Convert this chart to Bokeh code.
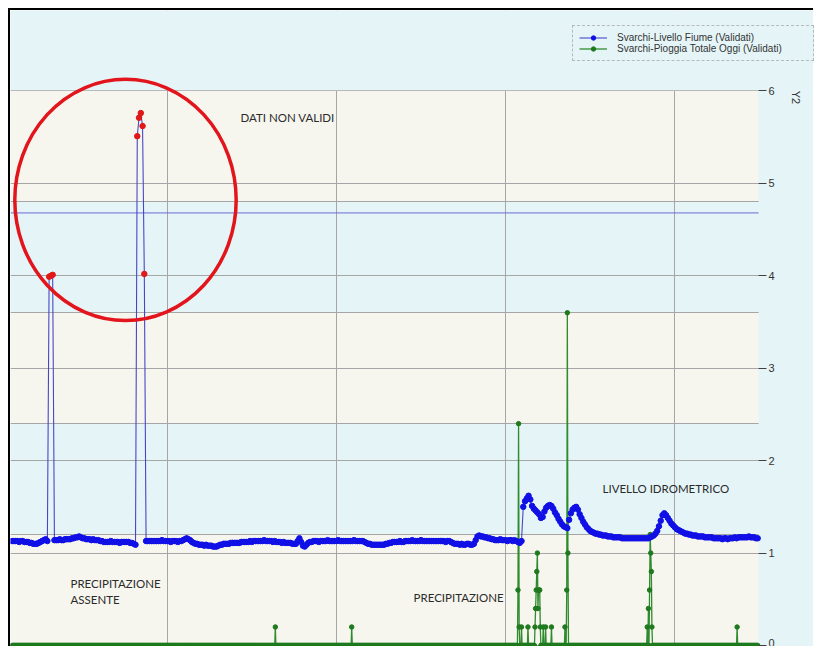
import math
from bokeh.plotting import figure
from bokeh.models import (FixedTicker, Grid, Span, BoxAnnotation, Label,
                          Legend, LegendItem, ColumnDataSource, Range1d)
from bokeh.embed import file_html
from bokeh.resources import INLINE

# ---------------- data ----------------
# River level (m), one value every 15 minutes, starting at hour 2.0
LEVEL_START_H = 2.0
LEVEL_STEP_H = 0.25
LEVEL = [
    1.13, 1.13, 1.13, 1.13, 1.12, 1.13, 1.13, 1.12, 1.12, 1.12, 1.11, 1.11, 1.10, 1.10, 1.10, 1.11,
    1.12, 1.13, 1.14, 1.15, 1.13, 3.99, 4.00, 4.01, 1.14, 1.14, 1.14, 1.15, 1.14, 1.14, 1.15, 1.15,
    1.15, 1.15, 1.16, 1.16, 1.17, 1.17, 1.18, 1.17, 1.16, 1.16, 1.15, 1.15, 1.15, 1.14, 1.15, 1.14,
    1.14, 1.14, 1.13, 1.13, 1.12, 1.12, 1.12, 1.12, 1.13, 1.12, 1.12, 1.12, 1.12, 1.11, 1.12, 1.12,
    1.12, 1.12, 1.12, 1.11, 1.11, 1.10, 1.09, 5.51, 5.71, 5.76, 5.62, 4.02, 1.13, 1.13, 1.13, 1.13,
    1.13, 1.13, 1.13, 1.13, 1.13, 1.14, 1.13, 1.13, 1.13, 1.13, 1.12, 1.13, 1.13, 1.13, 1.12, 1.13,
    1.13, 1.14, 1.15, 1.16, 1.15, 1.14, 1.12, 1.11, 1.10, 1.10, 1.09, 1.09, 1.09, 1.08, 1.09, 1.08,
    1.08, 1.08, 1.07, 1.07, 1.07, 1.08, 1.09, 1.09, 1.10, 1.10, 1.10, 1.10, 1.11, 1.11, 1.11, 1.11,
    1.11, 1.11, 1.12, 1.12, 1.12, 1.12, 1.12, 1.13, 1.12, 1.13, 1.13, 1.13, 1.13, 1.13, 1.13, 1.14,
    1.13, 1.13, 1.13, 1.13, 1.12, 1.13, 1.12, 1.12, 1.12, 1.11, 1.12, 1.11, 1.11, 1.11, 1.11, 1.10,
    1.10, 1.10, 1.13, 1.16, 1.12, 1.08, 1.07, 1.09, 1.11, 1.12, 1.12, 1.13, 1.13, 1.13, 1.12, 1.13,
    1.13, 1.13, 1.13, 1.14, 1.13, 1.13, 1.13, 1.13, 1.13, 1.14, 1.13, 1.13, 1.13, 1.13, 1.13, 1.13,
    1.13, 1.13, 1.14, 1.13, 1.13, 1.13, 1.13, 1.13, 1.12, 1.11, 1.10, 1.10, 1.09, 1.09, 1.09, 1.09,
    1.09, 1.09, 1.09, 1.09, 1.10, 1.10, 1.11, 1.11, 1.12, 1.12, 1.12, 1.12, 1.13, 1.12, 1.12, 1.13,
    1.13, 1.13, 1.13, 1.14, 1.13, 1.13, 1.13, 1.13, 1.14, 1.13, 1.13, 1.13, 1.13, 1.13, 1.13, 1.13,
    1.13, 1.13, 1.13, 1.13, 1.13, 1.13, 1.12, 1.13, 1.13, 1.12, 1.11, 1.10, 1.10, 1.10, 1.09, 1.10,
    1.09, 1.09, 1.10, 1.10, 1.09, 1.09, 1.10, 1.14, 1.18, 1.19, 1.18, 1.18, 1.17, 1.17, 1.16, 1.16,
    1.15, 1.15, 1.14, 1.14, 1.14, 1.15, 1.14, 1.14, 1.14, 1.13, 1.14, 1.14, 1.13, 1.14, 1.13, 1.12,
    1.11, 1.13, 1.50, 1.56, 1.59, 1.62, 1.58, 1.51, 1.48, 1.46, 1.44, 1.42, 1.38, 1.39, 1.45, 1.49,
    1.51, 1.52, 1.51, 1.48, 1.44, 1.41, 1.37, 1.34, 1.31, 1.29, 1.28, 1.27, 1.36, 1.43, 1.47, 1.49,
    1.50, 1.47, 1.42, 1.38, 1.34, 1.31, 1.28, 1.26, 1.24, 1.23, 1.22, 1.21, 1.21, 1.20, 1.20, 1.19,
    1.19, 1.19, 1.18, 1.18, 1.18, 1.17, 1.17, 1.17, 1.17, 1.17, 1.16, 1.16, 1.16, 1.16, 1.16, 1.16,
    1.16, 1.16, 1.16, 1.16, 1.16, 1.16, 1.16, 1.16, 1.16, 1.16, 1.17, 1.18, 1.19, 1.21, 1.24, 1.29,
    1.35, 1.41, 1.43, 1.41, 1.38, 1.35, 1.32, 1.30, 1.28, 1.26, 1.25, 1.24, 1.23, 1.22, 1.21, 1.21,
    1.20, 1.20, 1.19, 1.19, 1.19, 1.18, 1.18, 1.18, 1.18, 1.17, 1.17, 1.17, 1.17, 1.17, 1.16, 1.16,
    1.16, 1.16, 1.16, 1.15, 1.16, 1.16, 1.15, 1.16, 1.16, 1.16, 1.17, 1.16, 1.17, 1.17, 1.17, 1.17,
    1.17, 1.17, 1.18, 1.17, 1.17, 1.17, 1.16, 1.16,
]
# samples flagged as not valid (hours)
INVALID_HOURS = [7.25, 7.5, 7.75, 19.75, 20.0, 20.25, 20.5, 20.75]

# Rain (mm), every 5 minutes; zero except these readings
RAIN_START_H = 2.0
RAIN_END_H = 107.75
RAIN_EVENT_HOURS = [39.33, 50.17,
                    73.75, 73.83, 73.92, 74.25, 75.17,
                    76.17, 76.25, 76.33, 76.42, 76.5, 76.58, 76.67, 76.75, 76.83, 76.92,
                    77.33, 77.67, 78.5,
                    80.42, 80.67, 80.75, 80.83,
                    92.08, 92.25, 92.42, 92.5, 92.58, 92.67, 92.75,
                    104.83]
RAIN_EVENT_MM = [0.2, 0.2,
                 0.6, 2.4, 0.2, 0.2, 0.2,
                 0.2, 0.4, 0.6, 0.8, 1.0, 0.4, 0.6, 0.6, 0.6, 0.2,
                 0.2, 0.2, 0.2,
                 0.2, 0.6, 3.6, 1.0,
                 0.2, 0.4, 0.6, 1.2, 1.0, 0.8, 0.2,
                 0.2]

Y_TICKS = [0, 1, 2, 3, 4, 5, 6]
BAND_EDGES = [1.2, 2.4, 3.6, 4.8]
DAY_GRID_HOURS = [24, 48, 72, 96]
THRESHOLD = 4.68

SERIES_NAMES = ["Svarchi-Livello Fiume (Validati)", "Svarchi-Pioggia Totale Oggi (Validati)"]
Y2_LABEL = "Y2"

# time window of the plotting area (hours) and full canvas extent
X_START = 1.77
X_END = 107.87
X_CANVAS_END = 115.95
Y_CANVAS_BOTTOM = -0.0325
Y_CANVAS_TOP = 6.87

# ---------------- build sources ----------------
lvl_t = [LEVEL_START_H + i * LEVEL_STEP_H for i in range(len(LEVEL))]
inv_t = [t for t in lvl_t if any(abs(t - h) < 1e-6 for h in INVALID_HOURS)]
inv_v = [LEVEL[lvl_t.index(t)] for t in inv_t]
valid_t = [t for t in lvl_t if t not in inv_t]
valid_v = [LEVEL[lvl_t.index(t)] for t in valid_t]

n_rain = int(round((RAIN_END_H - RAIN_START_H) * 12)) + 1
rain_t = [RAIN_START_H + k / 12.0 for k in range(n_rain)]
rain_v = [0.0] * n_rain
for h, mm in zip(RAIN_EVENT_HOURS, RAIN_EVENT_MM):
    rain_v[int(round((h - RAIN_START_H) * 12))] = mm

CREAM = "#F7F6EE"
LIGHTBLUE = "#E5F5F7"
GRID = "#A6A6A6"

p = figure(width=805, height=638, output_backend="svg", toolbar_location=None,
           x_range=Range1d(X_START, X_CANVAS_END), y_range=Range1d(Y_CANVAS_BOTTOM, Y_CANVAS_TOP),
           x_axis_location=None, y_axis_location="right",
           min_border_left=0, min_border_top=0, min_border_bottom=0, min_border_right=0)
p.styles = {"margin-left": "8px", "margin-top": "8px", "vertical-align": "top",
            "border-top": "2px solid black", "border-left": "2px solid black"}
p.outline_line_color = None
p.background_fill_color = LIGHTBLUE
p.border_fill_color = LIGHTBLUE

# horizontal bands (lowest one runs to the bottom edge)
edges = [None] + BAND_EDGES + [Y_TICKS[-1]]
for i in range(len(edges) - 1):
    col = CREAM if i % 2 == 0 else LIGHTBLUE
    p.add_layout(BoxAnnotation(bottom=edges[i], top=edges[i + 1], right=X_END, fill_color=col,
                               fill_alpha=1, line_color=None, level="image"))

# right value axis, drawn at the right edge of the plotting area
ax = p.yaxis[0]
ax.fixed_location = X_END
ax.ticker = FixedTicker(ticks=Y_TICKS)
ax.axis_line_color = None
ax.major_tick_out = 8
ax.major_tick_in = 0
ax.minor_tick_line_color = None
ax.major_tick_line_color = "#404040"
ax.major_label_standoff = 2
ax.major_label_text_font = "Liberation Sans"
ax.major_label_text_font_size = "11px"
ax.major_label_text_color = "#333333"

p.ygrid.ticker = FixedTicker(ticks=Y_TICKS)
p.ygrid.grid_line_color = GRID
p.xgrid.ticker = FixedTicker(ticks=DAY_GRID_HOURS)
p.xgrid.grid_line_color = GRID
p.add_layout(Grid(dimension=1, ticker=FixedTicker(ticks=BAND_EDGES), grid_line_color=GRID))
p.add_layout(Span(location=THRESHOLD, dimension="width", line_color="#6A6AD8", line_width=1,
                  level="underlay"))
# hide grid parts outside the plotting area
p.add_layout(BoxAnnotation(bottom=Y_TICKS[-1] + 0.008, fill_color=LIGHTBLUE, fill_alpha=1,
                           line_color=None, level="underlay"))
p.add_layout(BoxAnnotation(left=X_END + 0.01, fill_color=LIGHTBLUE, fill_alpha=1,
                           line_color=None, level="underlay"))

# rain series
rsrc = ColumnDataSource(dict(t=rain_t, v=rain_v))
r_line = p.line("t", "v", source=rsrc, line_color="#2E8B2E", line_width=1.3)
r_pts = p.scatter("t", "v", source=rsrc, size=4.5, fill_color="#1F7A1F", line_color="#1F7A1F")

# level series
lsrc = ColumnDataSource(dict(t=lvl_t, v=LEVEL))
vsrc = ColumnDataSource(dict(t=valid_t, v=valid_v))
isrc = ColumnDataSource(dict(t=inv_t, v=inv_v))
l_line = p.line("t", "v", source=lsrc, line_color="#4646C8", line_width=1.1)
l_pts = p.scatter("t", "v", source=vsrc, size=5.5, fill_color="#1010E6", line_color="#1010E6")
p.scatter("t", "v", source=isrc, size=5.5, fill_color="#E01818", line_color="#E01818")

# red circle around invalid data
p.ellipse(x=[18.08], y=[4.82], width=[31.4], height=[2.61], fill_color=None,
          line_color="#E3151C", line_width=3.5)

# notes
def note(x, y, txt):
    p.add_layout(Label(x=x, y=y, text=txt, text_font="Lato", text_font_size="11.5px",
                       text_color="#2B2B2B", text_baseline="middle", text_align="left"))
note(34.4, 5.71, "DATI NON VALIDI")
note(10.28, 0.67, "PRECIPITAZIONE")
note(10.28, 0.50, "ASSENTE")
note(58.94, 0.52, "PRECIPITAZIONE")
note(85.74, 1.70, "LIVELLO IDROMETRICO")

p.add_layout(Label(x=113.12, y=5.93, text=Y2_LABEL, angle=-math.pi / 2,
                   text_font="Liberation Sans", text_font_size="11px", text_color="#333333",
                   text_align="center", text_baseline="middle"))

legend = Legend(items=[LegendItem(label=SERIES_NAMES[0], renderers=[l_line, l_pts]),
                       LegendItem(label=SERIES_NAMES[1], renderers=[r_line, r_pts])],
                location=(562, 587), padding=6, spacing=0, margin=0,
                glyph_width=28, glyph_height=11, label_height=11, label_width=190,
                label_standoff=10, label_text_font="Liberation Sans",
                label_text_font_size="10px", label_text_color="#333333",
                background_fill_color=LIGHTBLUE, background_fill_alpha=1,
                border_line_color="#808080", border_line_dash="2 2", border_line_width=1)
p.add_layout(legend)

open("out.html", "w").write(file_html(p, INLINE))
